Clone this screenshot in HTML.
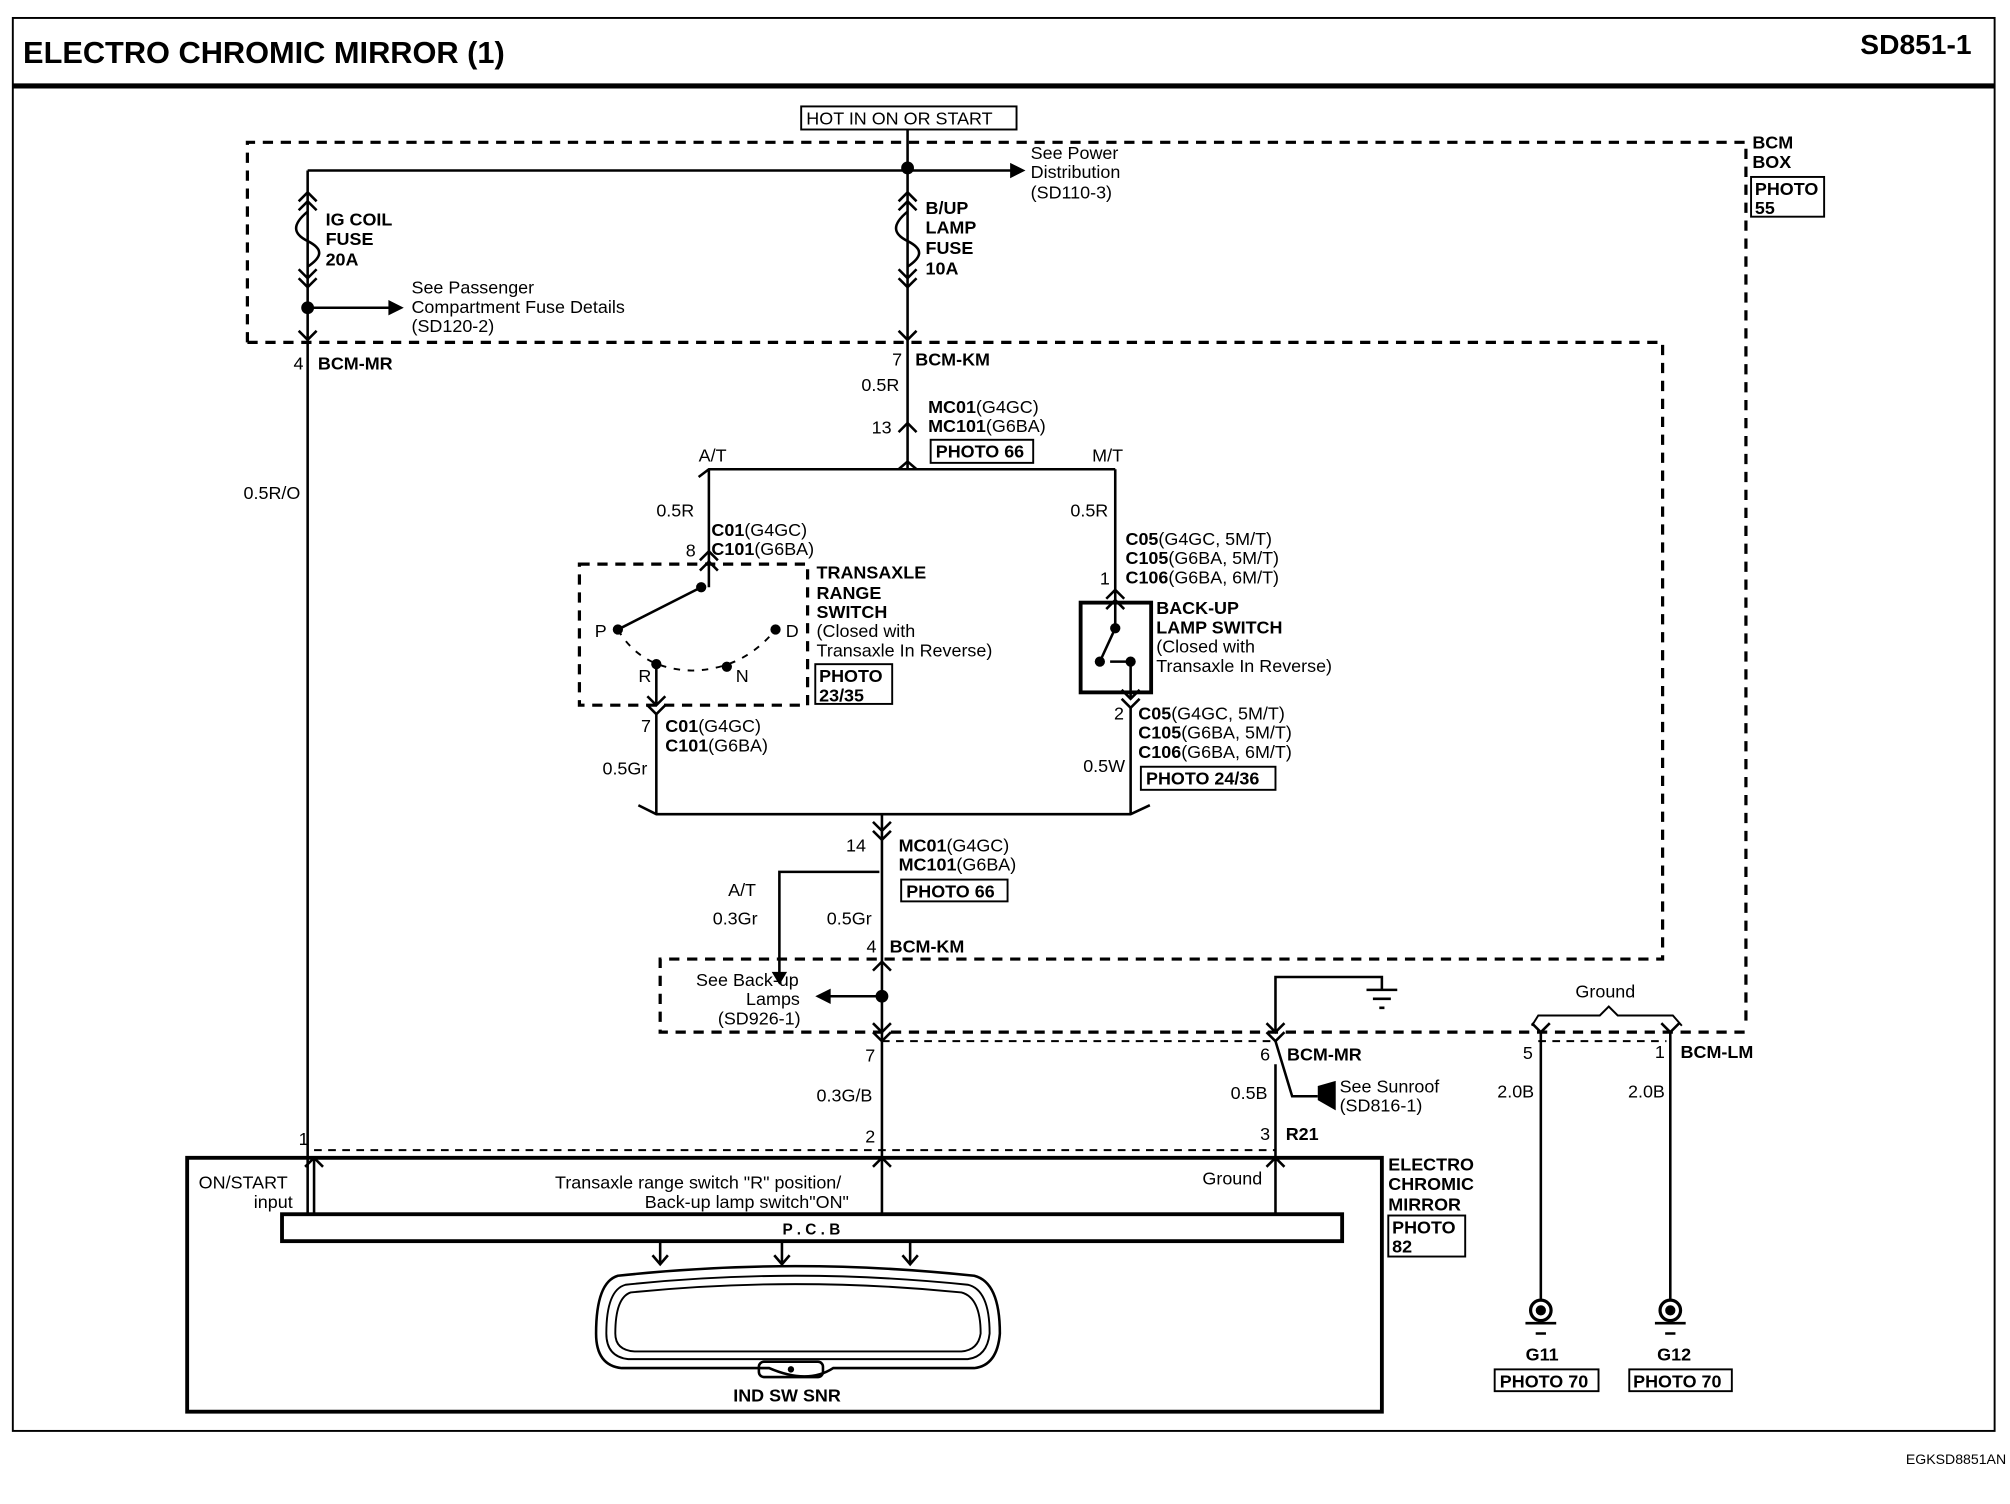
<!DOCTYPE html>
<html><head><meta charset="utf-8"><style>
html,body{margin:0;padding:0;background:#fff;}
svg{display:block;}
text{font-family:"Liberation Sans",sans-serif;font-size:14px;fill:#000;}
.b{font-weight:bold;}
</style></head><body>
<svg width="2010" height="1504" viewBox="0 0 1568 1173" preserveAspectRatio="none" xmlns="http://www.w3.org/2000/svg">
<g fill="none" stroke="#000" stroke-width="2">
<rect x="10" y="14" width="1546" height="1102" stroke-width="1.5"/>
<line x1="10" y1="67" x2="1556" y2="67" stroke-width="4"/>
<rect x="625" y="83" width="168" height="18" stroke-width="1.5"/>
<g stroke-dasharray="8,6" stroke-width="2.5">
<path d="M193 267 V111 H1362 V802"/>
<path d="M193 267 H1297 V748 H515 V805 H1362"/>
<path d="M452 440 H630 V550 H452 Z"/>
</g>
<g stroke-dasharray="6,5" stroke-width="1.5">
<path d="M688 812 H995 M1200 812 H1300"/>
<path d="M245 897 H995"/>
</g>
<path d="M240 133 H790 M708 101 V265"/>
<path d="M240 133 V265 M240 240 H305"/>
<path d="M240 165 C228 175,228 182,240 188 C252 194,252 200,240 208" />
<path d="M708 165 C696 175,696 182,708 188 C720 194,720 200,708 208" />
<path d="M233 157 L240 150 L247 157 M233 164 L240 157 L247 164"/>
<path d="M233 210 L240 217 L247 210 M233 217 L240 224 L247 217"/>
<path d="M233 258 L240 265 L247 258"/>
<path d="M701 157 L708 150 L715 157 M701 164 L708 157 L715 164"/>
<path d="M701 210 L708 217 L715 210 M701 217 L708 224 L715 217"/>
<path d="M701 258 L708 265 L715 258"/>
<path d="M240 265 V947"/>
<path d="M708 265 V366"/>
<path d="M701 337 L708 330 L715 337"/>
<path d="M545 372 L553 366 H863 L870 366 M701 366 L708 360 L715 366"/>
<path d="M553 366 V458"/>
<path d="M546 437 L553 430 L560 437 M546 445 L553 438 L560 445"/>
<path d="M547 458 L482 491"/>
<path d="M482 491 Q500 522 540 523 Q580 522 605 491" stroke-dasharray="5,6" stroke-width="1.5"/>
<path d="M512 518 V550 M505 543 L512 550 L519 543 M505 550 L512 557 L519 550"/>
<path d="M512 557 V635"/>
<path d="M870 366 V490 M863 467 L870 460 L877 467 M863 475 L870 468 L877 475"/>
<rect x="843" y="470" width="55" height="70" stroke-width="3"/>
<path d="M870 490 L858 516 M866 516 H880" />
<path d="M882 516 V545 M875 538 L882 545 L889 538 M875 545 L882 552 L889 545"/>
<path d="M882 552 V635"/>
<path d="M498 628 L512 635 H882 L897 628"/>
<path d="M681 641 L688 648 L695 641 M681 648 L688 655 L695 648 M688 635 V655"/>
<path d="M688 655 V905"/>
<path d="M686 680 H608 V760"/>
<path d="M681 757 L688 750 L695 757"/>
<path d="M688 777 H645"/>
<path d="M681 798 L688 805 L695 798 M681 805 L688 812 L695 805"/>
<path d="M681 910 L688 903 L695 910 M688 903 V947"/>
<path d="M995 805 V762 H1078 V772 M1066 772 H1090 M1071 779 H1085 M1076 786 H1080"/>
<path d="M988 798 L995 805 L1002 798 M988 805 L995 812 L1002 805"/>
<path d="M995 812 L1008 855 H1028"/>
<path d="M995 830 V947 M988 910 L995 903 L1002 910"/>
<path d="M245 903 V947 M238 910 L245 903 L252 910"/>
<path d="M1202 805 V1015 M1195 798 L1202 805 L1209 798"/>
<path d="M1303 805 V1015 M1296 798 L1303 805 L1310 798"/>
<path d="M1195 800 L1200 792 H1248 L1255 785 L1262 792 H1305 L1312 800" stroke-width="1.5"/>
<circle cx="1202" cy="1022" r="8" stroke-width="2.5"/>
<circle cx="1303" cy="1022" r="8" stroke-width="2.5"/>
<path d="M1190 1032 H1214 M1198 1040 H1206 M1291 1032 H1315 M1299 1040 H1307"/>
<rect x="146" y="903" width="932" height="198" stroke-width="3"/>
<rect x="220" y="947" width="827" height="21" stroke-width="3"/>
<path d="M515 968 V985 M509 979 L515 986 L521 979 M610 968 V985 M604 979 L610 986 L616 979 M710 968 V985 M704 979 L710 986 L716 979"/>
<path d="M482 995 Q620 980 760 995 Q780 1000 780 1040 Q778 1065 760 1067 H650 Q630 1080 600 1067 H485 Q465 1065 465 1040 Q465 1000 482 995 Z"/>
<path d="M488 1002 Q620 988 755 1002 Q772 1006 772 1040 Q770 1058 755 1060 H490 Q473 1058 473 1040 Q473 1006 488 1002 Z" stroke-width="1.5"/>
<path d="M492 1008 Q620 995 750 1008 Q765 1012 765 1040 Q763 1053 750 1054 H495 Q480 1053 480 1040 Q480 1012 492 1008 Z" stroke-width="1.5"/>
<rect x="592" y="1062" width="50" height="12" rx="4"/>
</g>
<g fill="#000">
<circle cx="708" cy="131" r="5"/><circle cx="240" cy="240" r="5"/>
<polygon points="788,127 800,133 788,139"/><polygon points="303,234 315,240 303,246"/>
<circle cx="547" cy="458" r="4"/><circle cx="482" cy="491" r="4"/><circle cx="605" cy="491" r="4"/>
<circle cx="512" cy="518" r="4"/><circle cx="567" cy="520" r="4"/>
<circle cx="870" cy="490" r="4"/><circle cx="858" cy="516" r="4"/><circle cx="882" cy="516" r="4"/>
<polygon points="602,758 614,758 608,768"/>
<circle cx="688" cy="777" r="5"/><polygon points="648,771 636,777 648,783"/>
<polygon points="1028,847 1042,843 1042,866 1028,858"/>
<circle cx="1202" cy="1022" r="4"/><circle cx="1303" cy="1022" r="4"/>
<circle cx="617" cy="1068" r="2.5"/>
</g>
<text x="18" y="49" class="b" style="font-size:24px">ELECTRO CHROMIC MIRROR (1)</text>
<text x="1538" y="42" class="b" text-anchor="end" style="font-size:22px">SD851-1</text>
<text x="1565" y="1142" text-anchor="end" style="font-size:11px">EGKSD8851AN</text>
<text x="629" y="97">HOT IN ON OR START</text>
<text x="804" y="124">See Power</text><text x="804" y="139">Distribution</text><text x="804" y="155">(SD110-3)</text>
<text x="254" y="176" class="b">IG COIL</text><text x="254" y="191" class="b">FUSE</text><text x="254" y="207" class="b">20A</text>
<text x="321" y="229">See Passenger</text><text x="321" y="244">Compartment Fuse Details</text><text x="321" y="259">(SD120-2)</text>
<text x="722" y="167" class="b">B/UP</text><text x="722" y="182" class="b">LAMP</text><text x="722" y="198" class="b">FUSE</text><text x="722" y="214" class="b">10A</text>
<text x="229" y="288">4</text><text x="248" y="288" class="b">BCM-MR</text>
<text x="696" y="285">7</text><text x="714" y="285" class="b">BCM-KM</text>
<text x="672" y="305">0.5R</text>
<text x="680" y="338">13</text>
<text x="724" y="322" class="b">MC01<tspan font-weight="normal">(G4GC)</tspan></text>
<text x="724" y="337" class="b">MC101<tspan font-weight="normal">(G6BA)</tspan></text>
<rect x="726" y="343" width="80" height="18" fill="none" stroke="#000" stroke-width="1.5"/><text x="730" y="357" class="b">PHOTO 66</text>
<text x="545" y="360">A/T</text><text x="852" y="360">M/T</text>
<text x="190" y="389">0.5R/O</text>
<text x="512" y="403">0.5R</text><text x="835" y="403">0.5R</text>
<text x="555" y="418" class="b">C01<tspan font-weight="normal">(G4GC)</tspan></text>
<text x="535" y="434">8</text>
<text x="555" y="433" class="b">C101<tspan font-weight="normal">(G6BA)</tspan></text>
<text x="637" y="451" class="b">TRANSAXLE</text><text x="637" y="467" class="b">RANGE</text><text x="637" y="482" class="b">SWITCH</text>
<text x="637" y="497">(Closed with</text><text x="637" y="512">Transaxle In Reverse)</text>
<rect x="636" y="518" width="60" height="31" fill="none" stroke="#000" stroke-width="1.5"/>
<text x="639" y="532" class="b">PHOTO</text><text x="639" y="547" class="b">23/35</text>
<text x="464" y="497">P</text><text x="613" y="497">D</text><text x="498" y="532">R</text><text x="574" y="532">N</text>
<text x="878" y="425" class="b">C05<tspan font-weight="normal">(G4GC, 5M/T)</tspan></text>
<text x="878" y="440" class="b">C105<tspan font-weight="normal">(G6BA, 5M/T)</tspan></text>
<text x="858" y="456">1</text>
<text x="878" y="455" class="b">C106<tspan font-weight="normal">(G6BA, 6M/T)</tspan></text>
<text x="902" y="479" class="b">BACK-UP</text><text x="902" y="494" class="b">LAMP SWITCH</text>
<text x="902" y="509">(Closed with</text><text x="902" y="524">Transaxle In Reverse)</text>
<text x="500" y="571">7</text>
<text x="519" y="571" class="b">C01<tspan font-weight="normal">(G4GC)</tspan></text>
<text x="519" y="586" class="b">C101<tspan font-weight="normal">(G6BA)</tspan></text>
<text x="470" y="604">0.5Gr</text>
<text x="869" y="561">2</text>
<text x="888" y="561" class="b">C05<tspan font-weight="normal">(G4GC, 5M/T)</tspan></text>
<text x="888" y="576" class="b">C105<tspan font-weight="normal">(G6BA, 5M/T)</tspan></text>
<text x="888" y="591" class="b">C106<tspan font-weight="normal">(G6BA, 6M/T)</tspan></text>
<text x="845" y="602">0.5W</text>
<rect x="890" y="598" width="105" height="18" fill="none" stroke="#000" stroke-width="1.5"/><text x="894" y="612" class="b">PHOTO 24/36</text>
<text x="660" y="664">14</text>
<text x="701" y="664" class="b">MC01<tspan font-weight="normal">(G4GC)</tspan></text>
<text x="701" y="679" class="b">MC101<tspan font-weight="normal">(G6BA)</tspan></text>
<rect x="703" y="686" width="83" height="17" fill="none" stroke="#000" stroke-width="1.5"/><text x="707" y="700" class="b">PHOTO 66</text>
<text x="568" y="699">A/T</text><text x="556" y="721">0.3Gr</text><text x="645" y="721">0.5Gr</text>
<text x="676" y="743">4</text><text x="694" y="743" class="b">BCM-KM</text>
<text x="543" y="769">See Back-up</text><text x="582" y="784">Lamps</text><text x="560" y="799">(SD926-1)</text>
<text x="675" y="828">7</text><text x="637" y="859">0.3G/B</text><text x="675" y="891">2</text>
<text x="983" y="827">6</text><text x="1004" y="827" class="b">BCM-MR</text>
<text x="960" y="857">0.5B</text>
<text x="1045" y="852">See Sunroof</text><text x="1045" y="867">(SD816-1)</text>
<text x="983" y="889">3</text><text x="1003" y="889" class="b">R21</text>
<text x="1229" y="778">Ground</text>
<text x="1188" y="826">5</text><text x="1168" y="856">2.0B</text>
<text x="1291" y="825">1</text><text x="1311" y="825" class="b">BCM-LM</text><text x="1270" y="856">2.0B</text>
<text x="1367" y="116" class="b">BCM</text><text x="1367" y="131" class="b">BOX</text>
<rect x="1366" y="138" width="57" height="31" fill="none" stroke="#000" stroke-width="1.5"/>
<text x="1369" y="152" class="b">PHOTO</text><text x="1369" y="167" class="b">55</text>
<text x="1203" y="1061" class="b" text-anchor="middle">G11</text><text x="1306" y="1061" class="b" text-anchor="middle">G12</text>
<rect x="1166" y="1068" width="81" height="17" fill="none" stroke="#000" stroke-width="1.5"/><text x="1170" y="1082" class="b">PHOTO 70</text>
<rect x="1271" y="1068" width="80" height="17" fill="none" stroke="#000" stroke-width="1.5"/><text x="1274" y="1082" class="b">PHOTO 70</text>
<text x="155" y="927">ON/START</text><text x="198" y="942">input</text>
<text x="433" y="927">Transaxle range switch "R" position/</text>
<text x="503" y="942">Back-up lamp switch"ON"</text>
<text x="938" y="924">Ground</text>
<text x="633" y="963" class="b" text-anchor="middle" style="font-size:12px">P  .  C  .  B</text>
<text x="572" y="1093" class="b">IND  SW  SNR</text>
<text x="233" y="893">1</text>
<text x="1083" y="913" class="b">ELECTRO</text><text x="1083" y="928" class="b">CHROMIC</text><text x="1083" y="944" class="b">MIRROR</text>
<rect x="1083" y="948" width="60" height="32" fill="none" stroke="#000" stroke-width="1.5"/>
<text x="1086" y="962" class="b">PHOTO</text><text x="1086" y="977" class="b">82</text>
</svg>
</body></html>
